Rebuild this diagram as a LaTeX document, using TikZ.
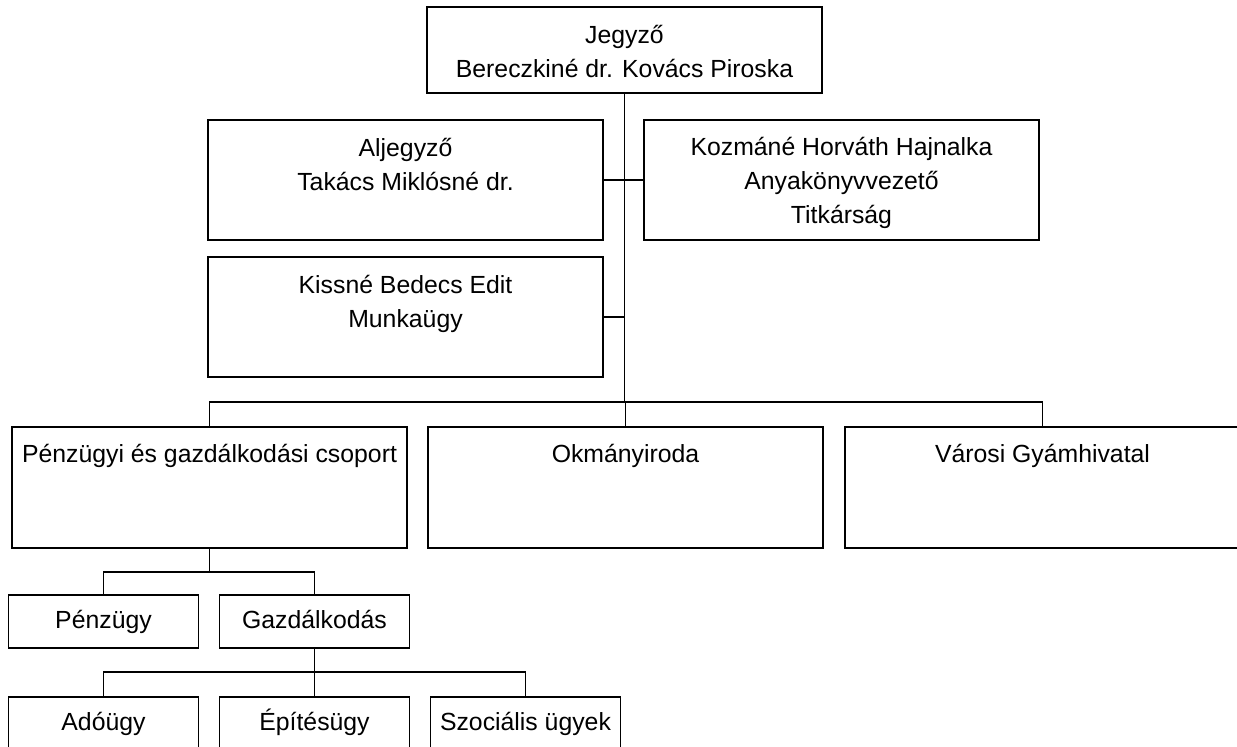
\documentclass[tikz,border=0pt]{standalone}
\usepackage{fontspec}
\setmainfont{Liberation Sans}
\usepackage{tikz}
\usetikzlibrary{positioning}

\tikzset{
	unit/.style={draw,line width=1.7pt,inner sep=0pt,align=center,font=\fontsize{24.8}{34}\selectfont},
	bigunit/.style={unit,minimum width=395pt},
	smallunit/.style={unit,minimum width=190pt,text height=33pt,text depth=20pt},
	link/.style={line width=1.3pt}
}

\begin{document}
\begin{tikzpicture}[x=1pt,y=-1pt]
		\useasboundingbox (0,0) rectangle (1237,747);
		\clip (0,0) rectangle (1237,747);
		\node[bigunit,text height=70pt,text depth=16pt] (jegyzo) at (624.5,50) {Jegyző\\Bereczkiné dr. Kovács Piroska};
		\node[bigunit,text height=70pt,text depth=50pt] (aljegyzo) at (405.5,180) {Aljegyző\\Takács Miklósné dr.};
		\node[bigunit,text height=103pt,text depth=17pt] (kozmane) at (841.5,180) {Kozmáné Horváth Hajnalka\\Anyakönyvvezető\\Titkárság};
		\node[bigunit,text height=70pt,text depth=50pt] (kissne) at (405.5,317) {Kissné Bedecs Edit\\Munkaügy};
		\node[bigunit,text height=35pt,text depth=86pt] (penzugyi) at (209.5,487.5) {Pénzügyi és gazdálkodási csoport};
		\node[bigunit,text height=35pt,text depth=86pt] (okmany) at (625.5,487.5) {Okmányiroda};
		\node[bigunit,text height=35pt,text depth=86pt] (varosi) at (1042.5,487.5) {Városi Gyámhivatal};
		\node[smallunit] (penzugy) at (103.5,621.5) {Pénzügy};
		\node[smallunit] (gazd) at (314.5,621.5) {Gazdálkodás};
		\node[smallunit] (adougy) at (103.5,723.5) {Adóügy};
		\node[smallunit] (epites) at (314.5,723.5) {Építésügy};
		\node[smallunit] (szoc) at (525.5,723.5) {Szociális ügyek};
		\coordinate (bus1) at (0,402);
		\coordinate (bus2) at (0,572);
		\coordinate (bus3) at (0,672);
		\draw[link] (jegyzo.south) -- (jegyzo.south |- bus1);
		\draw[link] (aljegyzo.east) -- (kozmane.west);
		\draw[link] (kissne.east) -- (kissne.east -| jegyzo.south);
		\foreach \n in {penzugyi,okmany,varosi}
			\draw[link] (jegyzo.south |- bus1) -| (\n.north);
		\draw[link] (penzugyi.south) -- (penzugyi.south |- bus2);
		\foreach \n in {penzugy,gazd}
			\draw[link] (penzugyi.south |- bus2) -| (\n.north);
		\draw[link] (gazd.south) -- (gazd.south |- bus3);
		\foreach \n in {adougy,epites,szoc}
			\draw[link] (gazd.south |- bus3) -| (\n.north);
\end{tikzpicture}
\end{document}
